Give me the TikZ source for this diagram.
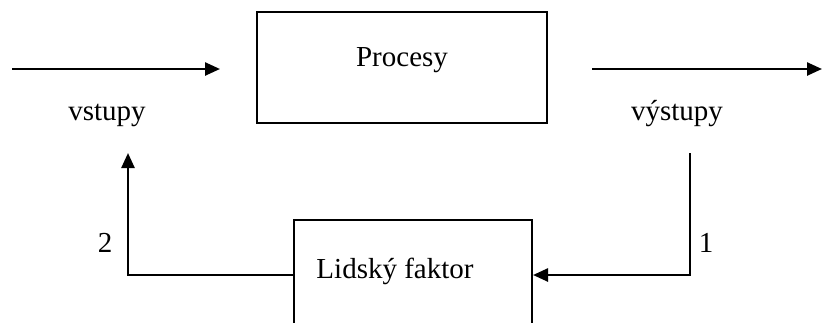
\documentclass[tikz,border=0pt]{standalone}
\usepackage{fontspec}
\setmainfont{Liberation Serif}
\usetikzlibrary{arrows.meta}
\begin{document}
\begin{tikzpicture}[x=1pt,y=-1pt,
  box/.style={draw, line width=2pt, inner sep=0pt},
  flow/.style={line width=2.5pt, -{Triangle[length=15pt,width=13pt]}},
  lbl/.style={inner sep=0pt, anchor=base, font=\fontsize{29}{34}\selectfont}]
\useasboundingbox (0,0) rectangle (822,322);
\clip (0,0) rectangle (822,322);

% process block
\node[box, minimum width=290pt, minimum height=111pt] (proc) at (402,67.5) {};
\node[lbl] (proct) at (402,66) {Procesy};

% human factor block (runs off the lower edge)
\node[box, minimum width=238pt, minimum height=110pt] (lf) at (413,275) {};
\node[lbl] (lft) at (395,278) {Lidský faktor};

% inputs and outputs
\coordinate (inA) at (12,69);
\coordinate (inB) at (220,69);
\coordinate (outA) at (592,69);
\coordinate (outB) at (822,69);
\draw[flow] (inA) -- (inB);
\draw[flow] (outA) -- (outB);
\node[lbl] (vst) at (107,120) {vstupy};
\node[lbl] (vyst) at (677,120) {výstupy};

% feedback loop
\coordinate (fb1) at (690,153);
\coordinate (fb2) at (128,153);
\draw[flow] (fb1) |- (lf.east);
\draw[flow] (lf.west) -| (fb2);
\node[lbl] (n1) at (706,252) {1};
\node[lbl] (n2) at (105,252) {2};
\end{tikzpicture}
\end{document}
